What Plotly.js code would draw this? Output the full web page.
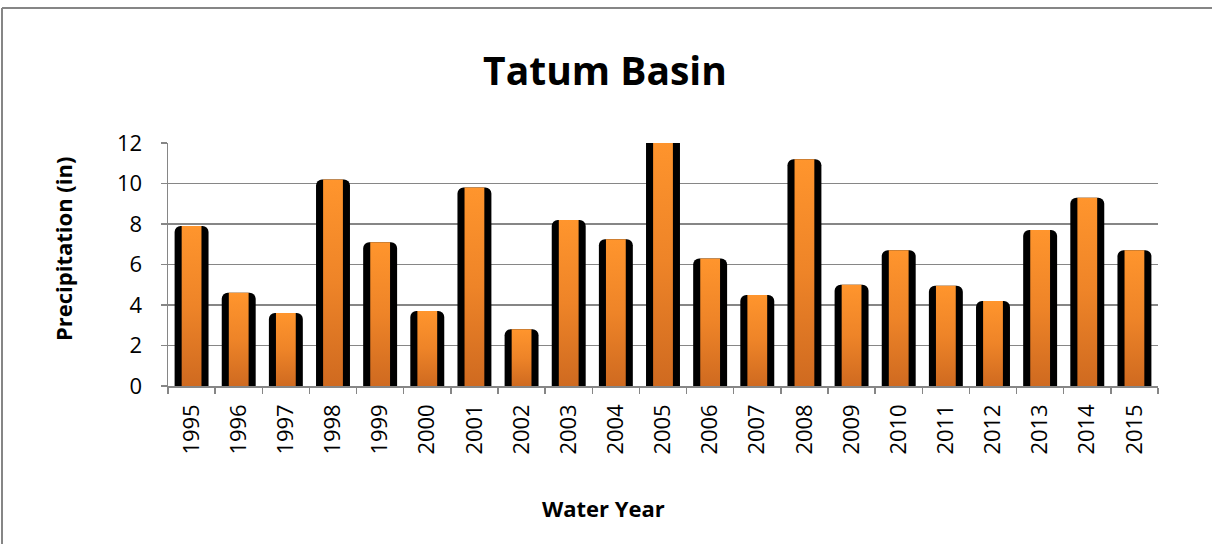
<!DOCTYPE html>
<html>
<head>
<meta charset="utf-8">
<script src="https://cdn.plot.ly/plotly-3.0.1.min.js"></script>
<style>
  html, body { margin:0; padding:0; width:1212px; height:544px; overflow:hidden; background:#fff; }
  #chart { position:absolute; left:0; top:0; width:1212px; height:544px; }
</style>
</head>
<body>
<div id="chart"></div>
<script>
const years = ['1995','1996','1997','1998','1999','2000','2001','2002','2003','2004','2005',
               '2006','2007','2008','2009','2010','2011','2012','2013','2014','2015'];
const precip = [7.9, 4.6, 3.6, 10.2, 7.1, 3.7, 9.8, 2.8, 8.2, 7.25, 12.4,
                6.3, 4.5, 11.2, 5.0, 6.7, 4.95, 4.2, 7.7, 9.3, 6.7];
const yTicks = [0, 2, 4, 6, 8, 10, 12];

const outer = {
  type: 'bar', x: years, y: precip, width: 0.72,
  marker: { color: '#000000', cornerradius: 6, line: { width: 0 } },
  hoverinfo: 'skip', showlegend: false
};
const inner = {
  type: 'bar', x: years, y: precip, width: 0.42,
  marker: { color: '#EE8428', line: { width: 0 } },
  showlegend: false
};

const F = 'Open Sans, Noto Sans, sans-serif';
const px = function (p) { return (p - 168) / 990; };
const py = function (p) { return (386 - p) / 243; };
const layout = {
  width: 1212, height: 544,
  margin: { l: 168, r: 54, t: 143, b: 158, pad: 0 },
  paper_bgcolor: '#ffffff', plot_bgcolor: 'rgba(0,0,0,0)',
  barmode: 'overlay',
  font: { family: F, color: '#000' },
  title: { text: '<b>Tatum Basin</b>', font: { family: F, size: 39, color: '#000' },
           x: 605/1212, xanchor: 'center', xref: 'container', yref: 'container', y: 1 - 71/544, yanchor: 'middle' },
  xaxis: {
    type: 'category', categoryorder: 'array', categoryarray: years,
    tickangle: -90, tickfont: { family: F, size: 22, color: '#000' },
    showline: true, linecolor: '#868686', linewidth: 1.5,
    ticks: 'outside', tickson: 'boundaries', ticklen: 6, tickcolor: '#868686', tickwidth: 1.5,
    ticklabelstandoff: 8, showgrid: false, fixedrange: true
  },
  yaxis: {
    range: [0, 12], tickvals: yTicks, ticktext: yTicks.map(String),
    tickfont: { family: F, size: 22, color: '#000' },
    showline: true, linecolor: '#868686', linewidth: 1.5,
    ticks: 'outside', ticklen: 6, tickcolor: '#868686', tickwidth: 1.5,
    showgrid: true, gridcolor: '#868686', gridwidth: 1.5, zeroline: false,
    ticklabelstandoff: 14, fixedrange: true
  },
  shapes: [
    { type: 'line', xref: 'paper', yref: 'paper', x0: px(2), x1: px(2), y0: py(8), y1: py(560),
      line: { color: '#868686', width: 2 } },
    { type: 'line', xref: 'paper', yref: 'paper', x0: px(2), x1: px(1230), y0: py(8), y1: py(8),
      line: { color: '#868686', width: 2 } }
  ],
  annotations: [
    { text: '<b>Precipitation (in)</b>', xref: 'paper', yref: 'paper',
      x: px(63), y: py(249), xanchor: 'center', yanchor: 'middle',
      textangle: -90, showarrow: false, font: { family: F, size: 22, color: '#000' } },
    { text: '<b>Water Year</b>', xref: 'paper', yref: 'paper',
      x: px(603), y: py(508), xanchor: 'center', yanchor: 'middle',
      showarrow: false, font: { family: F, size: 22, color: '#000' } }
  ]
};

Plotly.newPlot('chart', [outer, inner], layout, { displayModeBar: false, staticPlot: true }).then(function () {
  const svg = document.querySelector('#chart .main-svg');
  let defs = svg.querySelector('defs');
  const ns = 'http://www.w3.org/2000/svg';
  const g = document.createElementNS(ns, 'linearGradient');
  g.setAttribute('id', 'orangeGrad');
  g.setAttribute('x1', '0'); g.setAttribute('y1', '0');
  g.setAttribute('x2', '0'); g.setAttribute('y2', '1');
  [['0', '#FF952D'], ['0.5', '#EE8428'], ['1', '#CF6A20']].forEach(function (s) {
    const st = document.createElementNS(ns, 'stop');
    st.setAttribute('offset', s[0]); st.setAttribute('stop-color', s[1]);
    g.appendChild(st);
  });
  defs.appendChild(g);
  const traces = document.querySelectorAll('#chart .barlayer .trace');
  if (traces.length > 1) {
    traces[1].querySelectorAll('path').forEach(function (p) { p.style.fill = 'url(#orangeGrad)'; });
  }
});
</script>
</body>
</html>
